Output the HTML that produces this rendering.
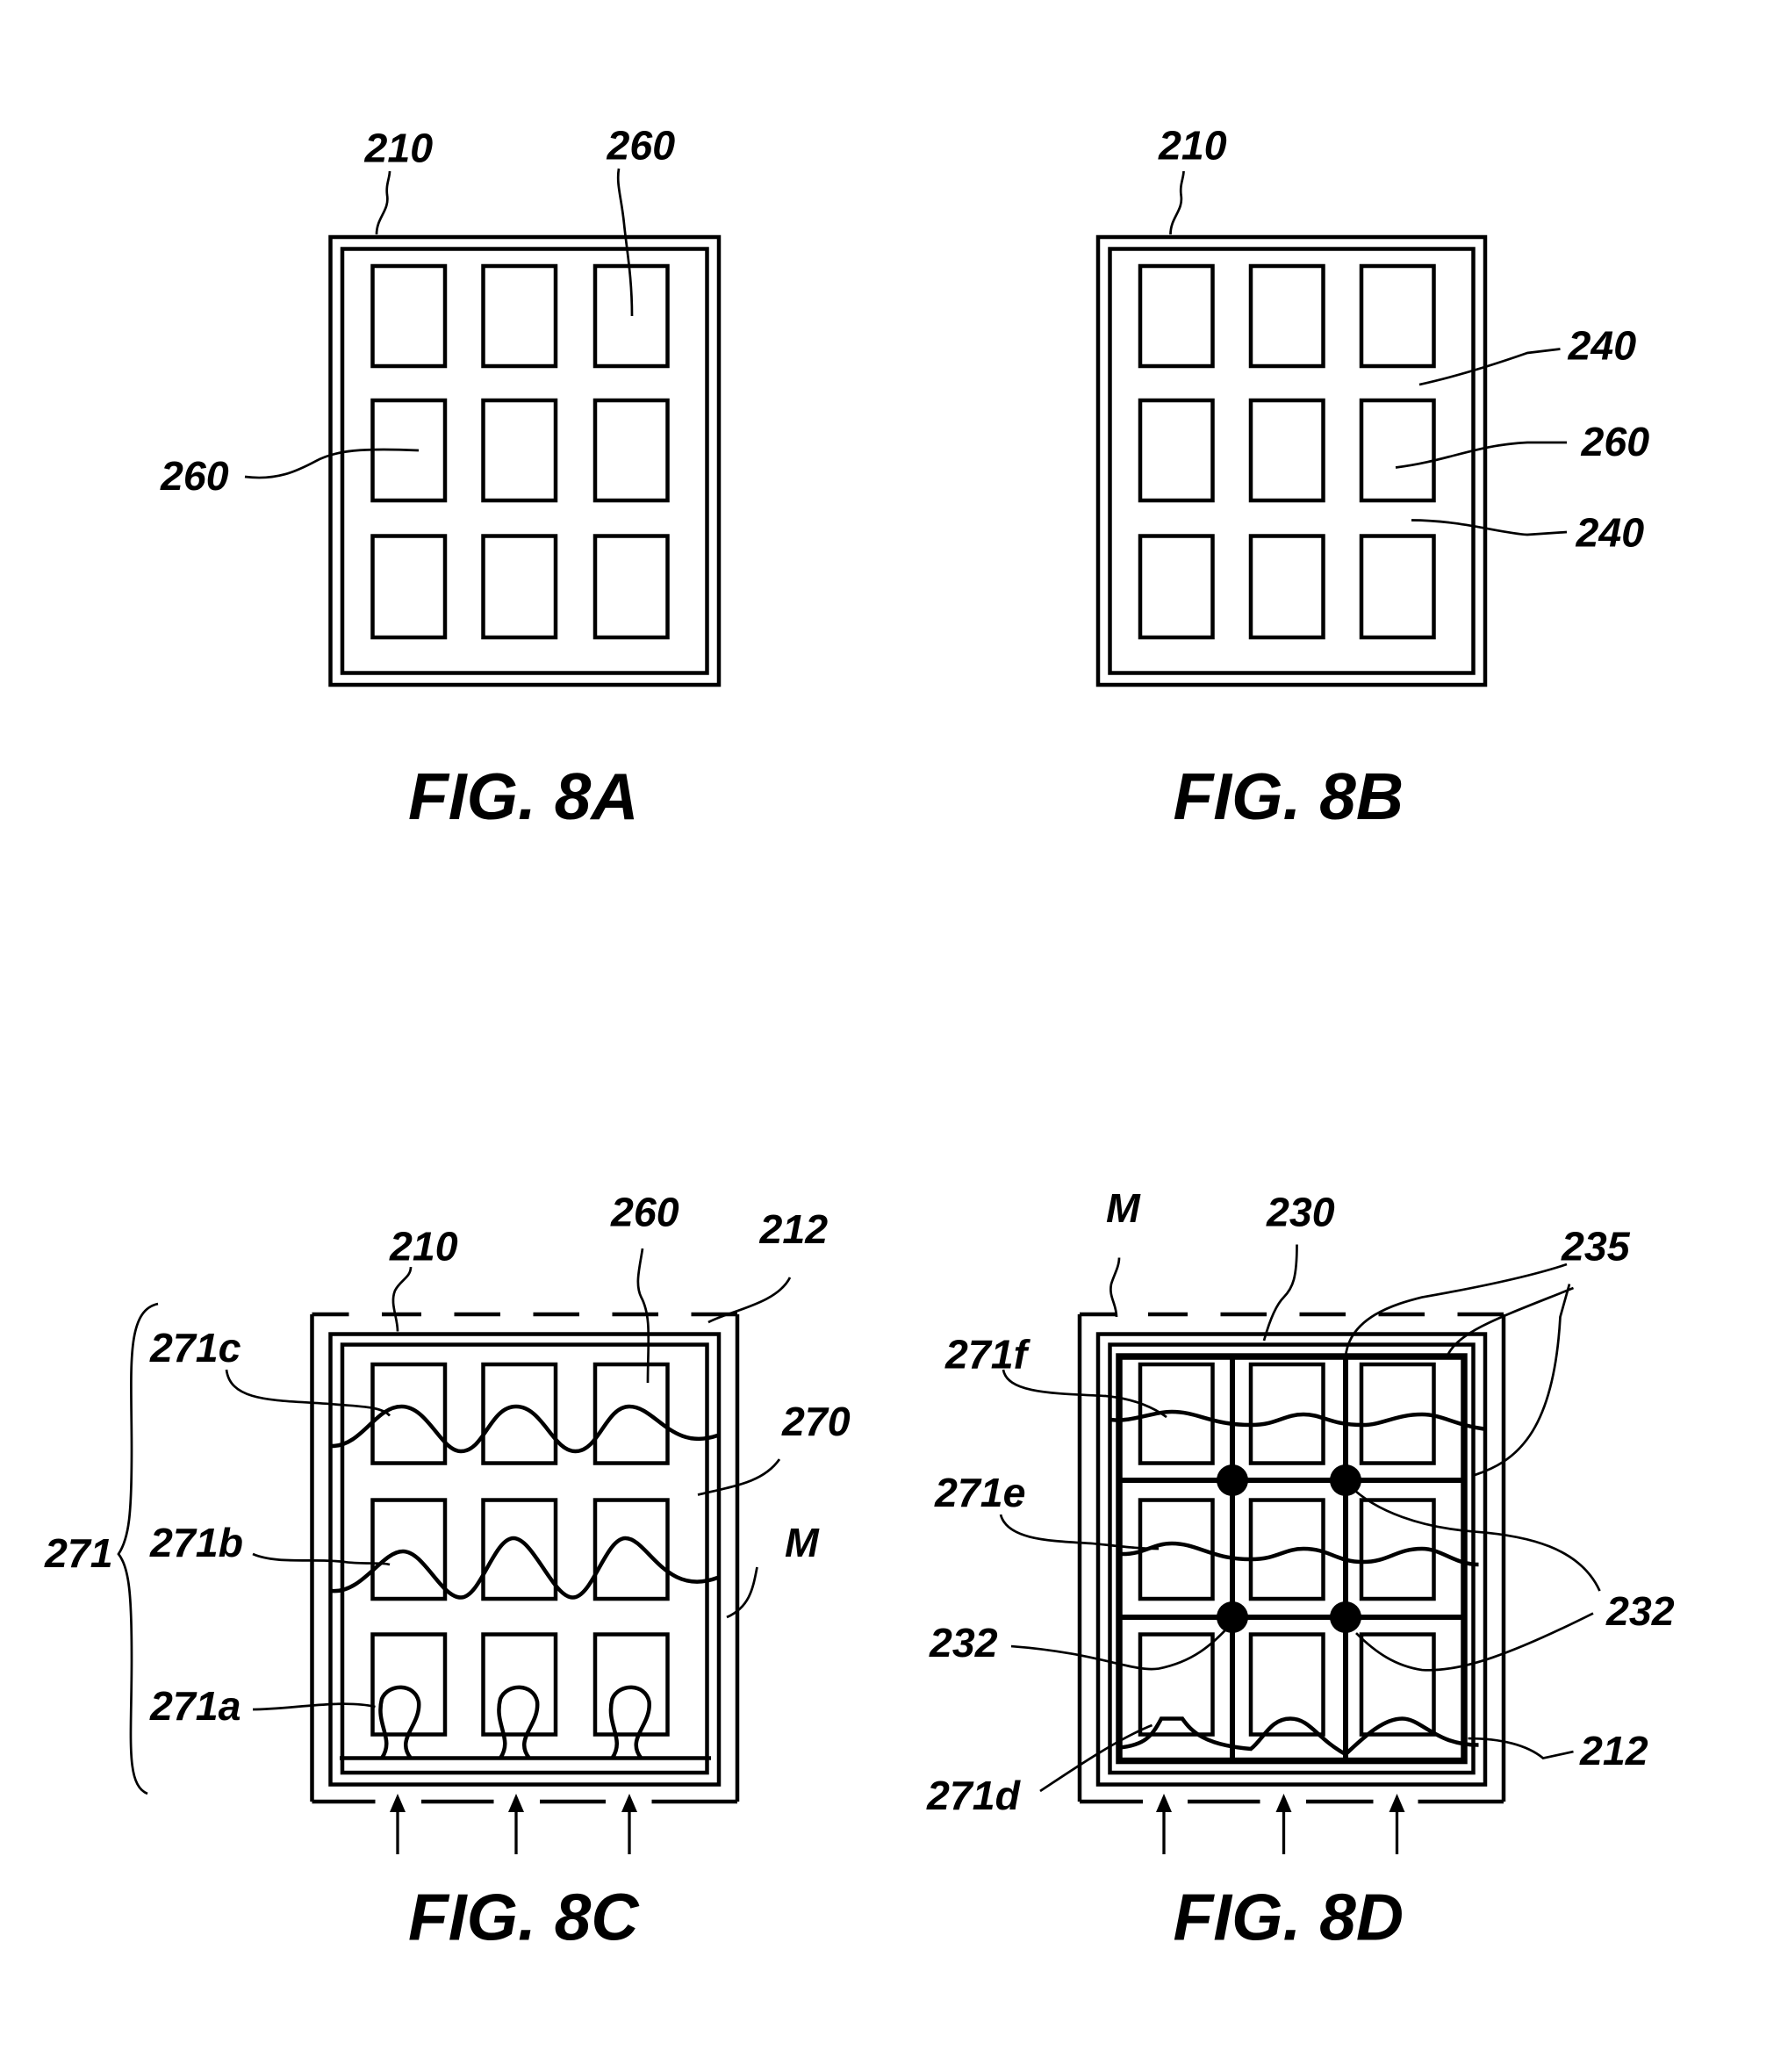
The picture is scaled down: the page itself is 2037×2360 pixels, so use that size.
<!DOCTYPE html>
<html><head><style>html,body{margin:0;padding:0;background:#fff}svg{display:block}
text{font-family:"Liberation Sans",sans-serif;font-weight:bold;font-style:italic;fill:#000}</style></head>
<body>
<svg width="2037" height="2360" viewBox="0 0 1358 1573.3" preserveAspectRatio="none" xmlns="http://www.w3.org/2000/svg">
<g fill="none" stroke="#000" stroke-width="3">
<!-- FIG 8A -->
<rect x="251" y="180" width="295" height="340"/>
<rect x="260" y="189" width="277" height="322"/>
<g id="boxes">
<rect x="283" y="202" width="55" height="76"/><rect x="367" y="202" width="55" height="76"/><rect x="452" y="202" width="55" height="76"/>
<rect x="283" y="304" width="55" height="76"/><rect x="367" y="304" width="55" height="76"/><rect x="452" y="304" width="55" height="76"/>
<rect x="283" y="407" width="55" height="77"/><rect x="367" y="407" width="55" height="77"/><rect x="452" y="407" width="55" height="77"/>
</g>
<path d="M286 178 C286 165 296 160 294 148 C293 140 296 135 296 130" stroke-width="1.8"/>
<path d="M480 240 C480 210 476 190 474 170 C472 150 468 140 470 128" stroke-width="1.8"/>
<path d="M186 362 C210 365 225 358 240 350 C255 342 275 340 318 342" stroke-width="1.8"/>
<!-- FIG 8B -->
<rect x="834" y="180" width="294" height="340"/>
<rect x="843" y="189" width="276" height="322"/>
<g>
<rect x="866" y="202" width="55" height="76"/><rect x="950" y="202" width="55" height="76"/><rect x="1034" y="202" width="55" height="76"/>
<rect x="866" y="304" width="55" height="76"/><rect x="950" y="304" width="55" height="76"/><rect x="1034" y="304" width="55" height="76"/>
<rect x="866" y="407" width="55" height="77"/><rect x="950" y="407" width="55" height="77"/><rect x="1034" y="407" width="55" height="77"/>
</g>
<path d="M889 178 C889 165 899 160 897 148 C896 140 899 135 899 130" stroke-width="1.8"/>
<path d="M1078 292 C1110 285 1140 275 1160 268 L1185 265" stroke-width="1.8"/>
<path d="M1060 355 C1100 350 1120 338 1160 336 L1190 336" stroke-width="1.8"/>
<path d="M1072 395 C1110 395 1140 405 1160 406 L1190 404" stroke-width="1.8"/>
<!-- FIG 8C -->
<path d="M237 998 V1368 M560 998 V1368"/>
<path d="M237 998 H265 M290 998 H320 M345 998 H380 M405 998 H440 M465 998 H500 M525 998 H560"/>
<path d="M237 1368 H285 M320 1368 H375 M410 1368 H460 M495 1368 H560"/>
<rect x="251" y="1013" width="295" height="342"/>
<rect x="260" y="1021" width="277" height="325"/>
<rect x="283" y="1036" width="55" height="75"/><rect x="367" y="1036" width="55" height="75"/><rect x="452" y="1036" width="55" height="75"/>
<rect x="283" y="1139" width="55" height="75"/><rect x="367" y="1139" width="55" height="75"/><rect x="452" y="1139" width="55" height="75"/>
<rect x="283" y="1241" width="55" height="76"/><rect x="367" y="1241" width="55" height="76"/><rect x="452" y="1241" width="55" height="76"/>
<path d="M252 1098 C275 1098 285 1068 305 1068 C325 1068 335 1102 350 1102 C368 1102 372 1068 392 1068 C412 1068 420 1102 437 1102 C455 1102 460 1068 478 1068 C498 1068 510 1102 545 1090"/>
<path d="M252 1208 C275 1210 290 1178 306 1178 C322 1178 335 1213 350 1213 C365 1213 375 1168 390 1168 C405 1168 420 1213 435 1213 C450 1213 460 1168 475 1168 C492 1168 505 1213 545 1198"/>
<path d="M258 1335 H540 M290 1335 C300 1320 285 1310 290 1290 C295 1278 315 1278 318 1292 C320 1310 300 1320 312 1335 M380 1335 C390 1320 375 1310 380 1290 C385 1278 405 1278 408 1292 C410 1310 390 1320 402 1335 M465 1335 C475 1320 460 1310 465 1290 C470 1278 490 1278 493 1292 C495 1310 475 1320 487 1335"/>
<g stroke-width="1.8">
<path d="M302 1011 C302 1000 296 990 300 980 C304 972 312 970 312 962"/>
<path d="M492 1050 C492 1020 495 1000 487 985 C482 975 486 962 488 948"/>
<path d="M538 1004 C555 995 590 990 600 970"/>
<path d="M172 1040 C175 1065 210 1063 250 1066 C275 1068 290 1068 296 1075"/>
<path d="M192 1180 C210 1188 240 1183 262 1186 C275 1188 290 1186 296 1188"/>
<path d="M192 1298 C220 1298 260 1290 285 1296"/>
<path d="M530 1135 C560 1128 580 1125 592 1108"/>
<path d="M552 1228 C570 1220 572 1205 575 1190"/>
<path d="M120 990 C95 995 100 1040 100 1100 C100 1150 98 1168 90 1180 C98 1190 100 1210 100 1260 C100 1320 95 1355 112 1362"/>
</g>
<!-- FIG 8D -->
<path d="M820 998 V1368 M1142 998 V1368"/>
<path d="M820 998 H848 M872 998 H902 M927 998 H962 M987 998 H1022 M1047 998 H1082 M1107 998 H1142"/>
<path d="M820 1368 H868 M902 1368 H957 M992 1368 H1043 M1077 1368 H1142"/>
<rect x="834" y="1013" width="294" height="342"/>
<rect x="843" y="1021" width="276" height="325"/>
<rect x="850" y="1030" width="262" height="307" stroke-width="5"/>
<path d="M936 1030 V1337 M1022 1030 V1337 M850 1124 H1112 M850 1228 H1112" stroke-width="4"/>
<rect x="866" y="1036" width="55" height="75"/><rect x="950" y="1036" width="55" height="75"/><rect x="1034" y="1036" width="55" height="75"/>
<rect x="866" y="1139" width="55" height="75"/><rect x="950" y="1139" width="55" height="75"/><rect x="1034" y="1139" width="55" height="75"/>
<rect x="866" y="1241" width="55" height="76"/><rect x="950" y="1241" width="55" height="76"/><rect x="1034" y="1241" width="55" height="76"/>
<path d="M843 1078 C860 1080 875 1072 890 1072 C910 1072 920 1082 950 1082 C970 1082 975 1074 990 1074 C1005 1074 1010 1082 1035 1082 C1050 1082 1060 1074 1080 1074 C1095 1074 1105 1082 1127 1085"/>
<path d="M852 1180 C870 1180 875 1172 890 1172 C910 1172 920 1184 950 1184 C970 1184 975 1176 990 1176 C1010 1176 1015 1186 1035 1186 C1055 1186 1060 1176 1080 1176 C1095 1176 1105 1188 1123 1188"/>
<path d="M850 1327 C870 1325 875 1318 882 1305 H898 C905 1315 915 1325 950 1328 C960 1320 965 1305 980 1305 C995 1305 1000 1320 1022 1332 C1035 1320 1050 1305 1065 1305 C1080 1305 1090 1325 1123 1325"/>
<g stroke-width="1.8">
<path d="M848 1000 C848 990 842 985 844 975 C846 968 850 962 850 955"/>
<path d="M960 1018 C965 1000 970 990 975 985 C982 978 985 970 985 945"/>
<path d="M1022 1030 C1025 1000 1060 990 1080 985 C1120 978 1160 970 1190 960"/>
<path d="M1100 1028 C1110 1010 1140 1000 1195 978"/>
<path d="M1120 1120 C1150 1110 1180 1090 1185 1000 L1192 975"/>
<path d="M1025 1128 C1045 1148 1080 1160 1120 1163 C1160 1166 1200 1175 1215 1208"/>
<path d="M1030 1240 C1045 1255 1060 1265 1080 1268 C1110 1270 1150 1255 1210 1225"/>
<path d="M936 1232 C920 1250 905 1262 880 1267 C860 1270 835 1255 768 1250"/>
<path d="M1115 1320 C1140 1320 1160 1325 1172 1335 L1195 1330"/>
<path d="M790 1360 C820 1340 850 1320 875 1310"/>
<path d="M762 1040 C765 1058 800 1058 840 1060 C860 1062 875 1068 886 1076"/>
<path d="M760 1150 C765 1170 800 1170 830 1172 C850 1174 865 1176 880 1176"/>
</g>
<g stroke-width="2.2">
<path d="M302 1408 V1368 M392 1408 V1368 M478 1408 V1368 M884 1408 V1368 M975 1408 V1368 M1061 1408 V1368"/>
</g>
</g>
<g fill="#000">
<path d="M302 1362 l-6 14 h12z M392 1362 l-6 14 h12z M478 1362 l-6 14 h12z M884 1362 l-6 14 h12z M975 1362 l-6 14 h12z M1061 1362 l-6 14 h12z"/>
<circle cx="936" cy="1124" r="12"/><circle cx="1022" cy="1124" r="12"/><circle cx="936" cy="1228" r="12"/><circle cx="1022" cy="1228" r="12"/>
</g>
<g font-size="31">
<text x="277" y="123">210</text><text x="461" y="121">260</text><text x="122" y="372">260</text>
<text x="880" y="121">210</text><text x="1191" y="273">240</text><text x="1201" y="346">260</text><text x="1197" y="415">240</text>
<text x="296" y="957">210</text><text x="464" y="931">260</text><text x="577" y="944">212</text><text x="114" y="1034">271c</text>
<text x="594" y="1090">270</text><text x="114" y="1182">271b</text><text x="34" y="1190">271</text><text x="596" y="1182">M</text><text x="114" y="1306">271a</text>
<text x="840" y="928">M</text><text x="962" y="931">230</text><text x="1186" y="957">235</text><text x="718" y="1039">271f</text>
<text x="710" y="1144">271e</text><text x="1220" y="1234">232</text><text x="706" y="1258">232</text><text x="1200" y="1340">212</text><text x="704" y="1374">271d</text>
</g>
<g font-size="50">
<text x="310" y="622">FIG. 8A</text><text x="891" y="622">FIG. 8B</text>
<text x="310" y="1473">FIG. 8C</text><text x="891" y="1473">FIG. 8D</text>
</g>
</svg>
</body></html>
